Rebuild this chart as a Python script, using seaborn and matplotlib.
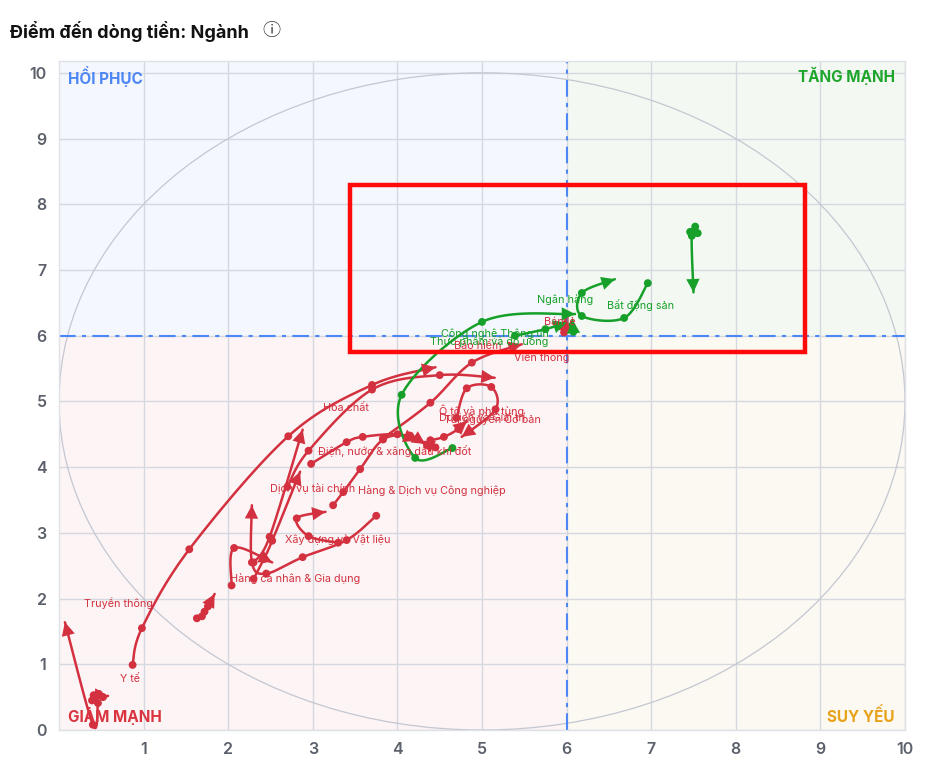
import numpy as np
import pandas as pd
import matplotlib
matplotlib.use("Agg")
import matplotlib.pyplot as plt
from matplotlib.patches import Rectangle, Circle
import seaborn as sns

# --- data: trails of each sector, oldest -> newest (x = RS ratio, y = RS momentum)
trail_x = {
    "Y tế": [0.87, 0.98, 1.54, 2.71, 3.70, 4.45],
    "Bảo hiểm": [2.70, 2.95, 3.70, 4.50, 5.15],
    "Viễn thông": [3.83, 4.39, 4.88, 5.47],
    "Hóa chất": [2.30, 2.49, 2.88],
    "Dịch vụ tài chính": [2.30, 2.42, 2.52, 2.85],
    "Điện, nước & xăng dầu khí đốt": [2.98, 3.40, 3.59, 4.00, 4.23],
    "Hàng & Dịch vụ Công nghiệp": [3.24, 3.36, 3.56, 3.83, 4.15, 4.33],
    "Xây dựng và Vật liệu": [3.75, 3.40, 2.88, 2.45, 2.28, 2.28],
    "Hàng cá nhân & Gia dụng": [2.04, 2.07, 2.52],
    "Bán buôn": [3.30, 2.95, 2.81, 3.15],
    "Ô tô và phụ tùng": [4.70, 4.82, 5.11, 5.16, 4.76],
    "Tài nguyên Cơ bản": [4.39, 4.55, 4.72, 4.82],
    "Du lịch và Giải trí": [4.45, 4.35, 4.28],
    "Dầu khí": [0.46, 0.40, 0.07],
    "Truyền thông": [0.39, 0.41, 0.47, 0.52, 0.58],
    "Vận tải": [1.63, 1.69, 1.72, 1.76, 1.84],
    "Bán lẻ": [5.97, 5.98, 5.99],
    "Dầu khí tổng hợp": [7.46, 7.52, 7.55, 7.48, 7.50],
    "Bất động sản": [6.96, 6.68, 6.18, 6.18, 6.57],
    "Ngân hàng": [6.08, 6.06, 6.07],
    "Công nghệ Thông tin": [4.65, 4.21, 4.05, 5.00, 6.10],
    "Thực phẩm và đồ uống": [5.39, 5.75, 6.00],
}
trail_y = {
    "Y tế": [0.99, 1.55, 2.75, 4.47, 5.25, 5.52],
    "Bảo hiểm": [3.70, 4.25, 5.18, 5.40, 5.36],
    "Viễn thông": [4.44, 4.98, 5.59, 5.87],
    "Hóa chất": [2.55, 2.94, 4.57],
    "Dịch vụ tài chính": [2.30, 2.60, 2.88, 3.93],
    "Điện, nước & xăng dầu khí đốt": [4.05, 4.38, 4.46, 4.50, 4.40],
    "Hàng & Dịch vụ Công nghiệp": [3.42, 3.62, 3.97, 4.42, 4.48, 4.35],
    "Xây dựng và Vật liệu": [3.26, 2.89, 2.63, 2.38, 2.55, 3.42],
    "Hàng cá nhân & Gia dụng": [2.20, 2.77, 2.55],
    "Bán buôn": [2.85, 2.95, 3.22, 3.32],
    "Ô tô và phụ tùng": [4.75, 5.20, 5.22, 4.88, 4.46],
    "Tài nguyên Cơ bản": [4.41, 4.46, 4.58, 4.70],
    "Du lịch và Giải trí": [4.30, 4.33, 4.40],
    "Dầu khí": [0.41, 0.08, 1.64],
    "Truyền thông": [0.45, 0.53, 0.55, 0.50, 0.52],
    "Vận tải": [1.70, 1.73, 1.80, 1.88, 2.07],
    "Bán lẻ": [6.05, 6.15, 6.28],
    "Dầu khí tổng hợp": [7.58, 7.66, 7.56, 7.52, 6.66],
    "Bất động sản": [6.80, 6.27, 6.30, 6.65, 6.86],
    "Ngân hàng": [6.06, 6.15, 6.24],
    "Công nghệ Thông tin": [4.29, 4.14, 5.10, 6.21, 6.33],
    "Thực phẩm và đồ uống": [6.00, 6.10, 6.20],
}
green_sectors = ["Dầu khí tổng hợp", "Bất động sản", "Ngân hàng",
                 "Công nghệ Thông tin", "Thực phẩm và đồ uống"]

# label anchor (data coords) for the names shown on the chart
label_pos = {
    "Hóa chất": (3.39, 4.90),
    "Ô tô và phụ tùng": (5.00, 4.86),
    "Du lịch và Giải trí": (5.00, 4.76),
    "Tài nguyên Cơ bản": (5.12, 4.72),
    "Điện, nước & xăng dầu khí đốt": (3.97, 4.25),
    "Dịch vụ tài chính": (3.00, 3.68),
    "Hàng & Dịch vụ Công nghiệp": (4.41, 3.65),
    "Xây dựng và Vật liệu": (3.30, 2.89),
    "Hàng cá nhân & Gia dụng": (2.79, 2.30),
    "Truyền thông": (0.70, 1.93),
    "Y tế": (0.84, 0.78),
    "Bảo hiểm": (4.95, 5.84),
    "Viễn thông": (5.70, 5.68),
    "Bán lẻ": (5.92, 6.21),
    "Công nghệ Thông tin": (5.15, 6.03),
    "Thực phẩm và đồ uống": (5.09, 5.92),
    "Ngân hàng": (5.98, 6.55),
    "Bất động sản": (6.87, 6.47),
}
highlight_box = (3.44, 5.75, 8.82, 8.30)  # x0, y0, x1, y1

RED = "#d3313f"
GREEN = "#16a02a"
PX_X, PX_Y = 84.6, 65.7   # pixels per unit (for arrow direction)


def catmull_rom(xs, ys, n=30):
    p = np.column_stack([xs, ys]).astype(float)
    if len(p) < 3:
        t = np.linspace(0, 1, n)[:, None]
        c = p[0] + (p[1] - p[0]) * t
        return c[:, 0], c[:, 1]
    p = np.vstack([p[0], p, p[-1]])
    out = []
    t = np.linspace(0, 1, n, endpoint=False)[:, None]
    for i in range(1, len(p) - 2):
        p0, p1, p2, p3 = p[i - 1], p[i], p[i + 1], p[i + 2]
        seg = 0.5 * (2 * p1 + (-p0 + p2) * t + (2 * p0 - 5 * p1 + 4 * p2 - p3) * t ** 2
                     + (-p0 + 3 * p1 - 3 * p2 + p3) * t ** 3)
        out.append(seg)
    out.append(p[-2][None, :])
    c = np.vstack(out)
    return c[:, 0], c[:, 1]


sns.set_style("white")
plt.rcParams["font.family"] = ["Inter", "DejaVu Sans", "Noto Sans CJK SC"]

fig = plt.figure(figsize=(9.33, 7.79), dpi=100)
ax = fig.add_axes([59 / 933, 49 / 779, 846 / 933, 669 / 779])
ax.set_xlim(0, 10)
ax.set_ylim(0, 10.18)

# quadrant backgrounds
ax.add_patch(Rectangle((0, 6), 6, 5, color="#f4f7fd", zorder=0))
ax.add_patch(Rectangle((6, 6), 4, 5, color="#f3f9f2", zorder=0))
ax.add_patch(Rectangle((0, 0), 6, 6, color="#fcf4f5", zorder=0))
ax.add_patch(Rectangle((6, 0), 4, 6, color="#fcf9f2", zorder=0))

for v in range(1, 11):
    ax.axvline(v, color="#d5d8df", lw=1, zorder=1)
for v in range(0, 11):
    ax.axhline(v, color="#d5d8df", lw=1, zorder=1)

ax.add_patch(Circle((5, 5), 5, fill=False, ec="#c3c7d1", lw=0.9, zorder=1))
ax.axvline(6, color="#4d86f5", lw=1.5, ls=(0, (8, 3, 2, 3)), zorder=2)
ax.axhline(6, color="#4d86f5", lw=1.5, ls=(0, (8, 3, 2, 3)), zorder=2)

for name in trail_x:
    color = GREEN if name in green_sectors else RED
    xs, ys = trail_x[name], trail_y[name]
    cx, cy = catmull_rom(xs, ys)
    sns.lineplot(x=cx, y=cy, sort=False, estimator=None, color=color, lw=1.8,
                 ax=ax, zorder=4)
    sns.scatterplot(x=xs[:-1], y=ys[:-1], color=color, s=32, edgecolor="none",
                    ax=ax, zorder=5)
    # arrow head at the newest point
    d = np.hypot((cx - cx[-1]) * PX_X, (cy - cy[-1]) * PX_Y)
    idx = np.where(d >= 14)[0]
    k = idx[-1] if len(idx) else 0
    ax.annotate("", xy=(cx[-1], cy[-1]), xytext=(cx[k], cy[k]),
                arrowprops=dict(arrowstyle="-|>", color=color, lw=0,
                                mutation_scale=24, shrinkA=0, shrinkB=0),
                zorder=6)

for name, (lx, ly) in label_pos.items():
    color = GREEN if name in green_sectors else RED
    ax.text(lx, ly, name, color=color, fontsize=7.8, ha="center", va="center",
            zorder=7)

qfont = dict(fontsize=11, fontweight="bold", va="center", zorder=7)
ax.text(0.11, 9.95, "HỒI PHỤC", color="#4d86f5", ha="left", **qfont)
ax.text(9.88, 9.95, "TĂNG MẠNH", color="#1ea52c", ha="right", **qfont)
ax.text(0.11, 0.21, "GIẢM MẠNH", color="#d9343f", ha="left", **qfont)
ax.text(9.88, 0.21, "SUY YẾU", color="#e8a21a", ha="right", **qfont)

x0, y0, x1, y1 = highlight_box
ax.add_patch(Rectangle((x0, y0), x1 - x0, y1 - y0, fill=False, ec="#ff0a0a",
                       lw=3.2, zorder=8, clip_on=False))

ax.set_xticks(range(1, 11))
ax.set_yticks(range(0, 11))
ax.tick_params(length=0, labelsize=11.5, labelcolor="#5b606b", pad=9)
for lab in ax.get_xticklabels() + ax.get_yticklabels():
    lab.set_fontweight("semibold")
ax.set_xlabel("")
ax.set_ylabel("")
for s in ax.spines.values():
    s.set_color("#dfe1e6")
    s.set_linewidth(1)

fig.text(10 / 933, 1 - 31 / 779, "Điểm đến dòng tiền: Ngành", fontsize=13,
         fontweight="bold", color="#111111", va="center", ha="left")
fig.text(262 / 933, 1 - 31 / 779, "ⓘ", fontsize=13, color="#333333",
         va="center", ha="left", family=["Noto Sans CJK SC", "DejaVu Sans"])

fig.savefig("out.png", dpi=100)
